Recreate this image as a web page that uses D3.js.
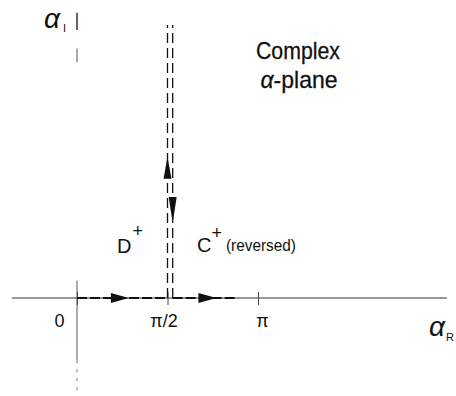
<!DOCTYPE html>
<html>
<head>
<meta charset="utf-8">
<script src="https://cdn.jsdelivr.net/npm/d3@7"></script>
<style>
  body { margin: 0; background: #fff; }
  svg text { font-family: "Liberation Sans", Arial, sans-serif; fill: #111; }
</style>
</head>
<body>
<svg id="chart"></svg>
<script>
// ticks on the real axis
const tickValues = [0, Math.PI / 2, Math.PI]
const tickLabels = ["0", "π/2", "π"]

// extent of the two axes (alpha units)
const reExtent = [-1.13, 6.42]
const imExtent = [-1.7, 4.95]
// visible pieces of the (broken) imaginary axis
const imPieces = [[4.95, 4.65], [4.33, 4.09], [0.3, -1.08]]

// contour pieces: D+ along the real axis, C+ up and back down the line Re = pi/2
const shift = 0.09
const contourD = [[0, 0], [Math.PI / 2, 0]]
const contourC = [[Math.PI / 2 + shift, 0], [2.78, 0]]
const upLine = [[Math.PI / 2, 0], [Math.PI / 2, 4.74]]
const downLine = [[Math.PI / 2 + shift, 0], [Math.PI / 2 + shift, 4.74]]

// arrow tips and directions
const arrowRe = [0.9, 2.42, Math.PI / 2, Math.PI / 2 + shift]
const arrowIm = [0, 0, 2.45, 1.30]
const arrowDir = ["right", "right", "up", "down"]

let width = 456
let height = 396

let svg = d3.select("#chart")
    .attr("width", width)
    .attr("height", height)

let xScale = d3.scaleLinear().domain([0, Math.PI]).range([77, 258])
let yScale = d3.scaleLinear().domain([0, Math.PI]).range([298, 117])

let line = d3.line()
    .x(d => xScale(d[0]))
    .y(d => yScale(d[1]))

// real axis (thin)
svg.append("path")
    .attr("d", line([[reExtent[0], 0], [reExtent[1], 0]]))
    .attr("stroke", "#333")
    .attr("stroke-width", 1)
    .attr("fill", "none")

// imaginary axis, faint and broken
svg.selectAll(".impiece")
    .data(imPieces)
    .enter()
    .append("path")
    .attr("class", "impiece")
    .attr("d", d => line([[0, d[0]], [0, d[1]]]))
    .attr("stroke", (d, i) => i == 0 ? "#222" : "#555")
    .attr("stroke-width", (d, i) => i == 0 ? 1.4 : 1)
svg.append("path")
    .attr("d", line([[0, -1.08], [0, imExtent[0]]]))
    .attr("stroke", "#777")
    .attr("stroke-width", 1)
    .attr("stroke-dasharray", "3,6")
    .attr("fill", "none")

// tick marks via a bottom axis
let xAxis = d3.axisBottom(xScale)
    .tickValues(tickValues)
    .tickFormat((d, i) => tickLabels[i])
    .tickSizeOuter(0)
    .tickSizeInner(6)

let gx = svg.append("g")
    .attr("transform", "translate(0," + (yScale(0) - 6) + ")")
    .call(xAxis)
gx.select(".domain").remove()
gx.selectAll(".tick line")
    .attr("y2", 13)
    .attr("stroke", "#444")
gx.selectAll(".tick text")
    .attr("y", 35)
    .attr("dy", 0)
    .attr("dx", (d, i) => i == 0 ? -18 : (i == 1 ? -4 : 4))
    .style("font-size", "18px")
    .style("font-family", "Liberation Sans, Arial, sans-serif")
    .attr("fill", "#111")

// contour lines
svg.selectAll(".hline")
    .data([contourD, contourC])
    .enter()
    .append("path")
    .attr("class", "hline")
    .attr("d", d => line(d))
    .attr("stroke", "#111")
    .attr("stroke-width", 2)
    .attr("stroke-dasharray", "10,3")
    .attr("fill", "none")

svg.selectAll(".vline")
    .data([upLine, downLine])
    .enter()
    .append("path")
    .attr("class", "vline")
    .attr("d", d => line(d))
    .attr("stroke", "#111")
    .attr("stroke-width", 1.3)
    .attr("stroke-dasharray", "10,5")
    .attr("fill", "none")

// arrow heads
let arrowPath = (i) => {
    let tx = xScale(arrowRe[i])
    let ty = yScale(arrowIm[i])
    let dir = arrowDir[i]
    if (dir == "right") {
        return "M" + tx + "," + ty + " L" + (tx - 18) + "," + (ty - 5) + " L" + (tx - 18) + "," + (ty + 5) + "Z"
    } else if (dir == "up") {
        return "M" + tx + "," + ty + " L" + (tx - 4) + "," + (ty + 22) + " L" + (tx + 4) + "," + (ty + 22) + "Z"
    } else {
        return "M" + tx + "," + ty + " L" + (tx - 4) + "," + (ty - 26) + " L" + (tx + 4) + "," + (ty - 26) + "Z"
    }
}

svg.selectAll(".arrow")
    .data(arrowDir)
    .enter()
    .append("path")
    .attr("class", "arrow")
    .attr("d", (d, i) => arrowPath(i))
    .attr("fill", "#111")

// axis names
let alphaI = svg.append("text")
    .attr("x", 44)
    .attr("y", 28)
    .style("font-size", "28px")
    .style("font-style", "italic")
alphaI.append("tspan").text("α")
alphaI.append("tspan")
    .attr("dx", 3)
    .attr("dy", 4)
    .style("font-size", "11px")
    .style("font-style", "normal")
    .text("I")

let alphaR = svg.append("text")
    .attr("x", 429)
    .attr("y", 336)
    .style("font-size", "28px")
    .style("font-style", "italic")
alphaR.append("tspan").text("α")
alphaR.append("tspan")
    .attr("dx", 1)
    .attr("dy", 5)
    .style("font-size", "11px")
    .style("font-style", "normal")
    .text("R")

// contour labels
let dLabel = svg.append("text")
    .attr("x", 117)
    .attr("y", 253)
    .style("font-size", "20px")
dLabel.append("tspan").text("D")
dLabel.append("tspan")
    .attr("dx", 1)
    .attr("dy", -16)
    .style("font-size", "18px")
    .text("+")

let cLabel = svg.append("text")
    .attr("x", 197)
    .attr("y", 252)
    .style("font-size", "20px")
cLabel.append("tspan").text("C")
cLabel.append("tspan")
    .attr("dx", 0)
    .attr("dy", -13)
    .style("font-size", "18px")
    .text("+")
cLabel.append("tspan")
    .attr("dx", 4)
    .attr("dy", 12)
    .attr("textLength", 70)
    .attr("lengthAdjust", "spacingAndGlyphs")
    .style("font-size", "16px")
    .text("(reversed)")

// title, two lines
svg.append("text")
    .attr("x", 298)
    .attr("y", 59)
    .attr("text-anchor", "middle")
    .attr("textLength", 84)
    .attr("lengthAdjust", "spacingAndGlyphs")
    .style("font-size", "24px")
    .style("stroke", "#111")
    .style("stroke-width", 0.3)
    .text("Complex")

let plane = svg.append("text")
    .attr("x", 299)
    .attr("y", 88)
    .attr("text-anchor", "middle")
    .attr("textLength", 77)
    .attr("lengthAdjust", "spacingAndGlyphs")
    .style("font-size", "24px")
    .style("stroke", "#111")
    .style("stroke-width", 0.3)
plane.append("tspan").style("font-style", "italic").text("α")
plane.append("tspan").text("-plane")
</script>
</body>
</html>
